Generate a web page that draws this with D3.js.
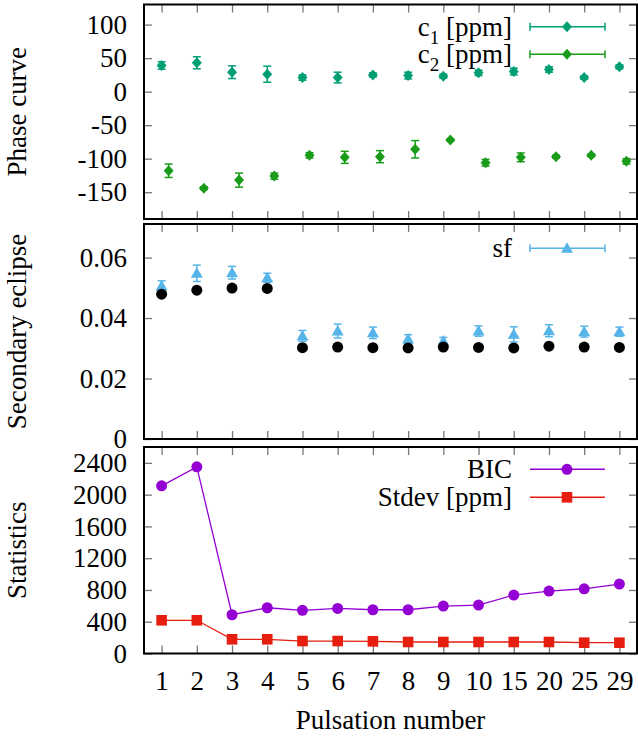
<!DOCTYPE html>
<html>
<head>
<meta charset="utf-8">
<script src="https://cdn.jsdelivr.net/npm/d3@7"></script>
<style>
  body { margin: 0; background: #fff; }
  text { font-family: "Liberation Serif", "Times New Roman", serif; fill: #000; }
</style>
</head>
<body>
<svg id="chart" width="638" height="738"></svg>
<script>
// ---- data ----
const pulsations = ["1", "2", "3", "4", "5", "6", "7", "8", "9", "10", "15", "20", "25", "29"];

const c1    = [39, 43, 29, 26, 21, 21, 25, 24, 23, 28, 30, 33, 21, 37];
const c1Err = [5.5, 9, 9.5, 12, 4, 8, 3, 5, 3, 4, 5, 4, 2.5, 3];
const c2    = [-118, -144, -132, -126, -95, -98, -97, -86, -72, -106, -98, -97, -95, -104];
const c2Err = [10, 2, 10.5, 4.5, 4, 9, 9, 13, 1.5, 5, 6.5, 2, 2, 4];

const eclipse = [0.0479, 0.0492, 0.0499, 0.0498, 0.0302, 0.0304, 0.0302, 0.0301, 0.0304, 0.0303, 0.0301, 0.0307, 0.0304, 0.0303];
const sf      = [0.0506, 0.0548, 0.0550, 0.0533, 0.0341, 0.0357, 0.0351, 0.0331, 0.0324, 0.0357, 0.0346, 0.0358, 0.0355, 0.0355];
const sfErr   = [0.0017, 0.0027, 0.0021, 0.0015, 0.0018, 0.0023, 0.0019, 0.0014, 0.0012, 0.0017, 0.0025, 0.0020, 0.0018, 0.0015];

const bic   = [2111, 2350, 488, 576, 543, 568, 551, 551, 597, 610, 736, 786, 815, 874];
const stdev = [418, 418, 179, 179, 157, 157, 153, 145, 145, 145, 145, 145, 136, 136];

const phaseTicks = [-150, -100, -50, 0, 50, 100];
const eclTicks   = [0, 0.02, 0.04, 0.06];
const statTicks  = [0, 400, 800, 1200, 1600, 2000, 2400];

// ---- layout ----
const svg = d3.select("#chart");
const left = 144, right = 637;
const fontSize = 27;
const colC1 = "#009e73", colC2 = "#1a9c1a", colSf = "#56b4e9", colBic = "#9400d3", colStd = "#e51e10";

const x = d3.scalePoint().domain(pulsations).range([left, right]).padding(0.5);
const shift = x.step() * 0.2;

const panels = [
  {top: 4.5, bottom: 219, domain: [-190, 130], ticks: phaseTicks, fmt: d => String(d), label: "Phase curve"},
  {top: 224, bottom: 439, domain: [0, 0.0711], ticks: eclTicks, fmt: d => d === 0 ? "0" : d.toFixed(2), label: "Secondary eclipse"},
  {top: 447, bottom: 653.5, domain: [0, 2600], ticks: statTicks, fmt: d => String(d), label: "Statistics"}
];

panels.forEach((p, i) => {
  p.y = d3.scaleLinear().domain(p.domain).range([p.bottom, p.top]);
  const g = svg.append("g");

  const axes = [
    [d3.axisLeft(p.y).tickValues(p.ticks).tickFormat(p.fmt), `translate(${left},0)`],
    [d3.axisRight(p.y).tickValues(p.ticks).tickFormat(""), `translate(${right},0)`],
    [d3.axisTop(x).tickFormat(""), `translate(0,${p.top})`],
    [d3.axisBottom(x).tickFormat(i === 2 ? null : ""), `translate(0,${p.bottom})`]
  ];
  axes.forEach(([ax, tr]) => {
    const a = g.append("g").attr("transform", tr)
      .call(ax.tickSizeInner(-8).tickSizeOuter(0).tickPadding(17));
    a.select(".domain").remove();
    a.selectAll("line").attr("stroke", "#777").attr("stroke-width", 1.3);
    a.selectAll("text").attr("font-size", fontSize)
      .attr("font-family", "Liberation Serif, serif").attr("fill", "#000");
  });

  g.append("rect")
    .attr("x", left).attr("y", p.top)
    .attr("width", right - left).attr("height", p.bottom - p.top)
    .attr("fill", "none").attr("stroke", "#000").attr("stroke-width", 2);

  svg.append("text")
    .attr("transform", `translate(26,${(p.top + p.bottom) / 2}) rotate(-90)`)
    .attr("text-anchor", "middle")
    .attr("font-size", fontSize)
    .text(p.label);
});

svg.append("text")
  .attr("x", (left + right) / 2).attr("y", 729)
  .attr("text-anchor", "middle").attr("font-size", fontSize)
  .text("Pulsation number");

// ---- marker helpers ----
const diamond = (g, cx, cy, col) => g.append("path")
  .attr("d", `M${cx},${cy - 5.5}L${cx + 5},${cy}L${cx},${cy + 5.5}L${cx - 5},${cy}Z`).attr("fill", col);
const triangle = (g, cx, cy, col) => g.append("path")
  .attr("d", `M${cx},${cy - 6}L${cx + 6},${cy + 4.5}L${cx - 6},${cy + 4.5}Z`).attr("fill", col);
const circle = (g, cx, cy, col) => g.append("circle").attr("cx", cx).attr("cy", cy).attr("r", 5.5).attr("fill", col);
const square = (g, cx, cy, col) => g.append("rect").attr("x", cx - 5.3).attr("y", cy - 5.3)
  .attr("width", 10.6).attr("height", 10.6).attr("fill", col);

function errorBars(g, xs, vals, errs, y, col, marker) {
  vals.forEach((v, i) => {
    const cx = xs[i], y1 = y(v - errs[i]), y2 = y(v + errs[i]);
    g.append("line").attr("x1", cx).attr("x2", cx).attr("y1", y1).attr("y2", y2)
      .attr("stroke", col).attr("stroke-width", 1.5);
    [y1, y2].forEach(yy => g.append("line").attr("x1", cx - 4).attr("x2", cx + 4)
      .attr("y1", yy).attr("y2", yy).attr("stroke", col).attr("stroke-width", 1.5));
    marker(g, cx, y(v), col);
  });
}

function legendEntry(label, cy, col, marker, caps, sub) {
  const g = svg.append("g");
  const t = g.append("text").attr("x", 512).attr("y", cy + 9)
    .attr("text-anchor", "end").attr("font-size", fontSize);
  if (sub) {
    t.append("tspan").text(label[0]);
    t.append("tspan").attr("font-size", 19).attr("dy", 8).text(sub);
    t.append("tspan").attr("dy", -8).text(label.slice(1));
  } else {
    t.text(label);
  }
  g.append("line").attr("x1", 530).attr("x2", 605).attr("y1", cy).attr("y2", cy)
    .attr("stroke", col).attr("stroke-width", 1.5);
  if (caps) [530, 605].forEach(xx => g.append("line").attr("x1", xx).attr("x2", xx)
    .attr("y1", cy - 4).attr("y2", cy + 4).attr("stroke", col).attr("stroke-width", 1.5));
  marker(g, 567, cy, col);
}

// ---- panel 1: phase curve ----
const y1 = panels[0].y;
const g1 = svg.append("g");
errorBars(g1, pulsations.map(d => x(d)), c1, c1Err, y1, colC1, diamond);
errorBars(g1, pulsations.map(d => x(d) + shift), c2, c2Err, y1, colC2, diamond);
legendEntry("c [ppm]", 26.7, colC1, diamond, true, "1");
legendEntry("c [ppm]", 54.3, colC2, diamond, true, "2");

// ---- panel 2: secondary eclipse ----
const y2 = panels[1].y;
const g2 = svg.append("g");
errorBars(g2, pulsations.map(d => x(d)), sf, sfErr, y2, colSf, triangle);
eclipse.forEach((v, i) => circle(g2, x(pulsations[i]), y2(v), "#000"));
legendEntry("sf", 248.3, colSf, triangle, true);

// ---- panel 3: statistics ----
const y3 = panels[2].y;
const g3 = svg.append("g");
const line = d3.line().x((d, i) => x(pulsations[i])).y(d => y3(d));
g3.append("path").datum(bic).attr("d", line).attr("fill", "none").attr("stroke", colBic).attr("stroke-width", 1.3);
g3.append("path").datum(stdev).attr("d", line).attr("fill", "none").attr("stroke", colStd).attr("stroke-width", 1.3);
bic.forEach((v, i) => circle(g3, x(pulsations[i]), y3(v), colBic));
stdev.forEach((v, i) => square(g3, x(pulsations[i]), y3(v), colStd));
legendEntry("BIC", 469.3, colBic, circle, false);
legendEntry("Stdev [ppm]", 497.3, colStd, square, false);
</script>
</body>
</html>
